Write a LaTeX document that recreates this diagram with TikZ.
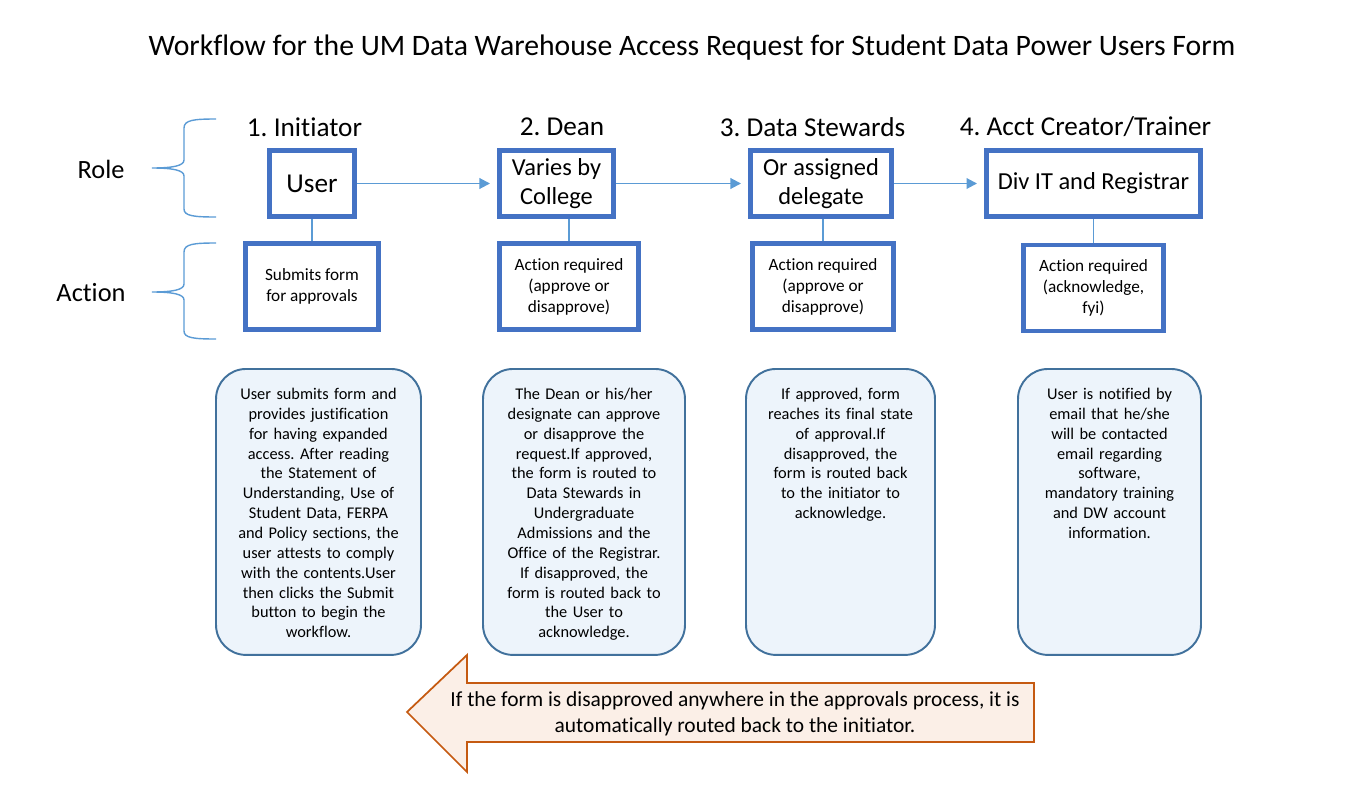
\documentclass[tikz,border=0pt]{standalone}
\usepackage{fontspec}
\setmainfont{Carlito}[Ligatures=CommonOff]
\usetikzlibrary{arrows.meta}
\definecolor{boxblue}{HTML}{4472C4}
\definecolor{linkblue}{HTML}{5B9BD5}
\definecolor{descline}{HTML}{41719C}
\definecolor{descfill}{HTML}{EDF4FB}
\definecolor{noteline}{HTML}{C55A11}
\definecolor{notefill}{HTML}{FBEFE7}
\frenchspacing
\begin{document}
\begin{tikzpicture}[x=0.02cm,y=-0.02cm,
  role/.style={draw=boxblue,line width=2.8pt,align=center,inner sep=2pt,
    minimum height=1.32cm,font=\fontsize{13.9}{16.4}\selectfont},
  act/.style={draw=boxblue,line width=2.8pt,align=center,inner sep=2pt,
    minimum height=1.72cm,font=\fontsize{9.8}{11.9}\selectfont},
  desc/.style={draw=descline,fill=descfill,line width=1.1pt,rounded corners=0.6cm,
    anchor=north,align=center,inner xsep=0.15cm,inner ysep=0.36cm,
    text height=0.25cm,text depth=4.75cm,font=\fontsize{9.3}{11.3}\selectfont},
  head/.style={font=\fontsize{15.5}{18}\selectfont},
  side/.style={font=\fontsize{15}{18}\selectfont},
  flow/.style={draw=linkblue,line width=1.1pt,-{Triangle[length=6pt,width=6pt]},shorten >=4pt},
  tie/.style={draw=linkblue,line width=0.8pt},
  brace/.style={draw=linkblue,line width=0.8pt}]
  \useasboundingbox (0,0) rectangle (1356,791);
  \node[font=\fontsize{16.9}{20}\selectfont] (title) at (692,48)
    {Workflow for the UM Data Warehouse Access Request for Student Data Power Users Form};

  % row labels and braces
  \node[side] (rolelbl) at (101,169) {Role};
  \node[side] (actlbl) at (91,293) {Action};
  \draw[brace] (216,119) .. controls (194,119) and (184,120) .. (184,128) -- (184,160)
    .. controls (184,166) and (172,168) .. (152,168)
    .. controls (172,168) and (184,170) .. (184,176) -- (184,209)
    .. controls (184,216) and (194,217) .. (216,217);
  \draw[brace] (216,243) .. controls (194,243) and (184,244) .. (184,252) -- (184,284)
    .. controls (184,290) and (172,292) .. (152,292)
    .. controls (172,292) and (184,294) .. (184,300) -- (184,331)
    .. controls (184,338) and (194,339) .. (216,339);

  % headings
  \node[head] (h1) at (304.5,127) {1. Initiator};
  \node[head] (h2) at (562,127) {2. Dean};
  \node[head] (h3) at (812.5,127) {3. Data Stewards};
  \node[head] (h4) at (1085.5,127) {4. Acct Creator/Trainer};

  % roles
  \node[role,minimum width=1.7cm,font=\fontsize{15.5}{17}\selectfont] (user) at (312,183.5) {User};
  \node[role,minimum width=2.28cm] (dean) at (556.5,183.5) {Varies by\\College};
  \node[role,minimum width=2.82cm] (stew) at (821,183.5) {Or assigned\\delegate};
  \node[role,minimum width=4.28cm] (divit) at (1093.5,183.5) {Div IT and Registrar};
  \draw[flow] (user) -- (dean);
  \draw[flow] (dean) -- (stew);
  \draw[flow] (stew) -- (divit);

  % actions
  \node[act,minimum width=2.66cm] (act1) at (312,286.5) {Submits form\\for approvals};
  \node[act,minimum width=2.78cm] (act2) at (569,286.5) {Action required\\(approve or\\disapprove)};
  \node[act,minimum width=2.82cm] (act3) at (823,286.5) {Action required\\(approve or\\disapprove)};
  \node[act,minimum width=2.8cm] (act4) at (1093.5,288) {Action required\\(acknowledge,\\fyi)};
  \draw[tie] (act1.north) -- (act1.north |- user.south);
  \draw[tie] (act2.north) -- (act2.north |- dean.south);
  \draw[tie] (act3.north) -- (act3.north |- stew.south);
  \draw[tie] (act4.north) -- (act4.north |- divit.south);

  % descriptions
  \node[desc,text width=3.8cm] (desc1) at (318.5,368)
    {User submits form and\\provides justification\\for having expanded\\access. After reading\\the Statement of\\Understanding, Use of\\Student Data, FERPA\\and Policy sections, the\\user attests to comply\\with the contents.User\\then clicks the Submit\\button to begin the\\workflow.};
  \node[desc,text width=3.74cm] (desc2) at (584,368)
    {The Dean or his/her\\designate can approve\\or disapprove the\\request.If approved,\\the form is routed to\\Data Stewards in\\Undergraduate\\Admissions and the\\Office of the Registrar.\\If disapproved, the\\form is routed back to\\the User to\\acknowledge.};
  \node[desc,text width=3.48cm] (desc3) at (840.5,368)
    {If approved, form\\reaches its final state\\of approval.If\\disapproved, the\\form is routed back\\to the initiator to\\acknowledge.};
  \node[desc,text width=3.36cm] (desc4) at (1109.5,368)
    {User is notified by\\email that he/she\\will be contacted\\email regarding\\software,\\mandatory training\\and DW account\\information.};

  % back arrow
  \draw[draw=noteline,fill=notefill,line width=1pt] (407,712) -- (467,655) -- (467,683)
    -- (1034,683) -- (1034,742) -- (467,742) -- (467,772) -- cycle;
  \node[align=center,font=\fontsize{12.2}{14.9}\selectfont] (backnote) at (735,713.5)
    {If the form is disapproved anywhere in the approvals process, it is\\automatically routed back to the initiator.};
\end{tikzpicture}
\end{document}
